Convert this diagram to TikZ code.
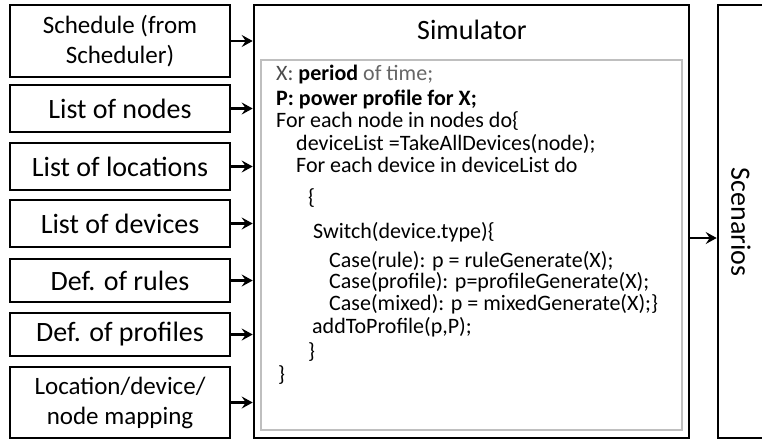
\documentclass[tikz,border=0pt]{standalone}
\usepackage{fontspec}
\setmainfont{Carlito}
\usetikzlibrary{arrows.meta,positioning,calc}

\begin{document}
\begin{tikzpicture}[x=1pt,y=-1pt,
    inbox/.style={rectangle,draw,line width=2.6pt,minimum width=220pt,minimum height=#1,inner sep=0pt,align=center,font=\fontsize{28}{30}\selectfont},
    twoline/.style={font=\fontsize{25}{30}\selectfont},
    frame/.style={rectangle,draw,line width=2.6pt,inner sep=0pt},
    codeline/.style={anchor=base west,inner sep=0pt,font=\fontsize{22}{24}\selectfont},
    arr/.style={-{Stealth[length=11pt,width=12pt,inset=4pt]},line width=2.4pt},
]
\useasboundingbox (0,0) rectangle (762,440);
\clip (0,0) rectangle (762,440);

% inputs
\node[inbox=72pt,twoline] (sched) at (120,41) {Schedule (from\\Scheduler)};
\node[inbox=47pt] (nodes) at (120,108.5) {List of nodes};
\node[inbox=47pt] (locs) at (120,166.5) {List of locations};
\node[inbox=47pt] (devs) at (120,223.5) {List of devices};
\node[inbox=43pt] (rules) at (120,280.5) {Def. of rules};
\node[inbox=43pt] (profs) at (120,334.5) {Def. of profiles};
\node[inbox=71pt,twoline] (mapping) at (120,402.5) {Location/device/\\node mapping};

% simulator
\node[frame,minimum width=435pt,minimum height=433pt] (sim) at (471.5,221.5) {};
\node[font=\fontsize{28}{30}\selectfont] (simtitle) at (472,30) {Simulator};
\node[frame,draw=gray!50,line width=2pt,minimum width=421pt,minimum height=370pt] (code) at (471.5,245) {};
\foreach \yy/\xx/\txt [count=\i] in {
    80/276/{\textcolor{black!70}{X:} \textbf{period} \textcolor{black!60}{of time;}},
    105/276/{\textbf{P: power profile for X;}},
    127/276/{For each node in nodes do\{},
    150/296/{deviceList =TakeAllDevices(node);},
    172/296/{For each device in deviceList do},
    204/308/{\{},
    238/313/{Switch(device.type)\{},
    267/329/{Case(rule): p = ruleGenerate(X);},
    288/329/{Case(profile): p=profileGenerate(X);},
    310/329/{Case(mixed): p = mixedGenerate(X);\}},
    333/312/{addToProfile(p,P);},
    358/308/{\}},
    381/278/{\}}}
  \node[codeline] (ln\i) at (\xx,\yy) {\txt};

% output
\node[frame,minimum width=57pt,minimum height=433pt] (scen) at (746.5,221.5) {};
\node[font=\fontsize{28}{30}\selectfont,rotate=-90] (scentext) at (741,222) {Scenarios};

\foreach \n in {sched,nodes,locs,devs,rules,profs,mapping}
  \draw[arr] (\n.east) -- (\n.east -| sim.west);
\coordinate (outy) at (0,238);
\draw[arr] (sim.east |- outy) -- (scen.west |- outy);
\end{tikzpicture}
\end{document}
